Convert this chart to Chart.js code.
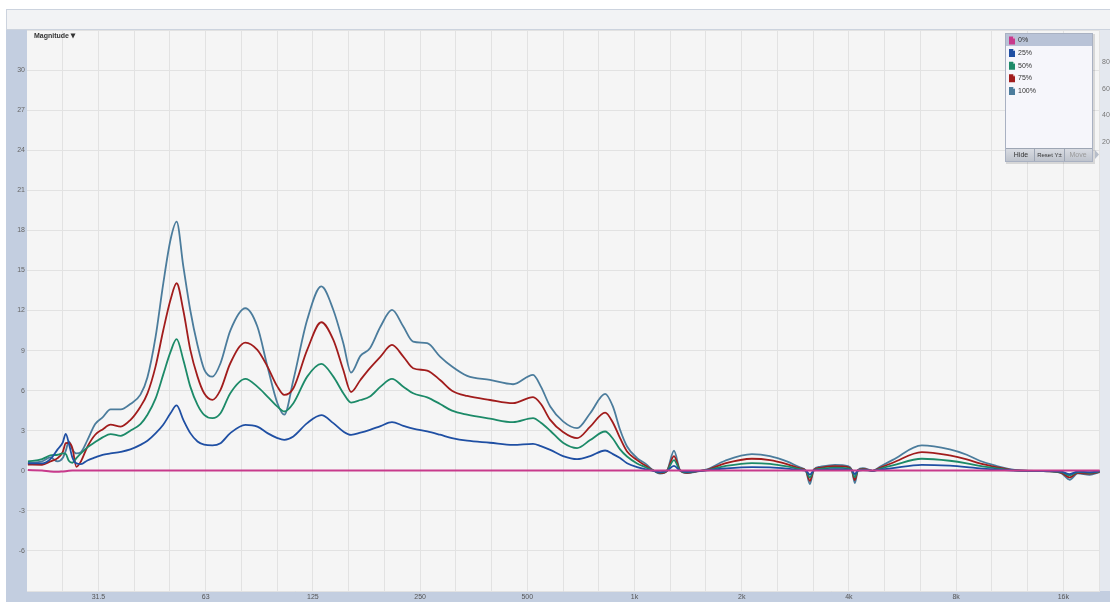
<!DOCTYPE html>
<html>
<head>
<meta charset="utf-8">
<script src="https://cdn.jsdelivr.net/npm/chart.js@4.4.1/dist/chart.umd.min.js"></script>
<style>
  html, body { margin: 0; padding: 0; background: #fff; }
  canvas { display: block; }
</style>
</head>
<body>
<canvas id="canvas" width="1110" height="602"></canvas>
<script>
// frequency points (Hz)
var freqs = [19.8, 21.7, 22.9, 24.0, 24.8, 25.3, 25.8, 26.4, 27.1, 27.9,
  29.1, 30.6, 32.1, 33.8, 36.1, 38.4, 41.0, 42.9, 45.2, 47.5,
  49.8, 51.8, 54.1, 56.6, 59.3, 61.9, 65.3, 68.8, 73.3, 80.8,
  87.3, 93.2, 99.4, 103.9, 110.2, 120.5, 132, 142.7, 152.2, 160,
  170, 180.8, 193.6, 208.5, 224.3, 239, 261.8, 284.5, 307.3, 339,
  393, 456, 519, 546, 580, 630, 690, 751, 827, 870,
  911, 953, 1017, 1078, 1120, 1180, 1234, 1291, 1342, 1404,
  1498, 1598, 1795, 2136, 2401, 2678, 2915, 3029, 3108, 3189,
  3316, 3653, 3974, 4077, 4157, 4239, 4377, 4669, 4886, 5312,
  6408, 7679, 8570, 9320, 10269, 11836, 14650, 15830, 16670, 17554,
  18970, 20234];

var pct0 = [0.05, 0.02, -0.06, -0.08, -0.05, -0.03, 0, 0.02, 0.03, 0.02,
  0.02, 0.02, 0.02, 0.02, 0.02, 0.02, 0.02, 0.02, 0.02, 0.02,
  0.02, 0.02, 0.02, 0.02, 0.02, 0.02, 0.02, 0.02, 0.02, 0.02,
  0.02, 0.02, 0.02, 0.02, 0.02, 0.02, 0.02, 0.02, 0.02, 0.02,
  0.02, 0.02, 0.02, 0.02, 0.02, 0.02, 0.02, 0.02, 0.02, 0.02,
  0.02, 0.02, 0.02, 0.02, 0.02, 0.02, 0.02, 0.02, 0.02, 0.02,
  0.02, 0.02, 0.02, 0.02, 0.02, 0.02, 0.02, 0.02, 0.02, 0.02,
  0.02, 0.02, 0.02, 0.02, 0.02, 0.02, 0.02, 0.02, 0.02, 0.02,
  0.02, 0.02, 0.02, 0.02, 0.02, 0.02, 0.02, 0.02, 0.02, 0.02,
  0.02, 0.02, 0.02, 0.02, 0.02, 0.02, 0.02, 0.02, 0.02, 0.02,
  0.02, 0.02];

var pct25 = [0.55, 0.55, 0.87, 1.6, 2.1, 2.77, 2.07, 1.0, 0.55, 0.5,
  0.77, 1.0, 1.2, 1.3, 1.42, 1.6, 1.94, 2.25, 2.8, 3.45,
  4.3, 4.89, 3.81, 2.82, 2.19, 1.95, 1.9, 2.07, 2.82, 3.44,
  3.31, 2.82, 2.45, 2.32, 2.57, 3.57, 4.16, 3.57, 2.94, 2.69,
  2.85, 3.07, 3.35, 3.64, 3.37, 3.15, 2.95, 2.7, 2.45, 2.25,
  2.1, 1.94, 2.02, 1.85, 1.57, 1.1, 0.87, 1.1, 1.52, 1.25,
  0.95, 0.57, 0.27, 0.1, 0.02, -0.1, 0, 0.37, 0.02, -0.08,
  -0.02, 0.03, 0.17, 0.28, 0.25, 0.16, 0.06, 0, -0.28, 0.03,
  0.07, 0.12, 0.09, 0.02, -0.25, 0.02, 0.05, 0, 0.07, 0.2,
  0.45, 0.38, 0.28, 0.18, 0.1, 0.01, -0.02, -0.07, -0.25, -0.07,
  -0.1, -0.03];

var pct50 = [0.7, 0.87, 1.15, 1.2, 1.3, 1.25, 0.75, 0.6, 0.95, 1.3,
  1.75, 2.15, 2.5, 2.75, 2.62, 3.0, 3.5, 4.2, 5.4, 7.2,
  8.9, 9.85, 8.3, 6.3, 4.94, 4.19, 3.94, 4.31, 5.81, 6.88,
  6.3, 5.56, 4.8, 4.44, 5.06, 7.05, 8.0, 7.05, 5.81, 5.11,
  5.3, 5.56, 6.3, 6.88, 6.3, 5.8, 5.5, 5.0, 4.5, 4.2,
  3.9, 3.64, 3.94, 3.6, 3.0, 2.1, 1.7, 2.3, 2.94, 2.4,
  1.6, 1.07, 0.55, 0.25, 0.05, -0.14, 0, 0.8, 0.03, -0.12,
  -0.03, 0.05, 0.35, 0.58, 0.52, 0.33, 0.12, 0, -0.5, 0.05,
  0.15, 0.24, 0.18, 0.03, -0.48, 0.03, 0.1, 0, 0.15, 0.4,
  0.9, 0.75, 0.56, 0.36, 0.2, 0.02, -0.03, -0.1, -0.35, -0.1,
  -0.15, -0.05];

var pct75 = [0.47, 0.45, 0.7, 0.95, 1.4, 2.07, 2.1, 1.7, 0.3, 0.7,
  1.8, 2.7, 3.1, 3.45, 3.31, 3.8, 4.8, 5.8, 7.8, 10.5,
  12.8, 14.04, 12.0, 9.05, 7.05, 5.8, 5.31, 6.06, 8.05, 9.6,
  9.05, 7.8, 6.3, 5.68, 6.18, 9.05, 11.12, 9.8, 7.55, 5.9,
  6.8, 7.68, 8.55, 9.42, 8.55, 7.68, 7.5, 6.8, 6.0, 5.6,
  5.3, 5.06, 5.51, 5.0, 3.81, 2.9, 2.44, 3.3, 4.36, 3.6,
  2.44, 1.44, 0.8, 0.35, 0.08, -0.18, 0, 1.1, 0.05, -0.15,
  -0.04, 0.07, 0.55, 0.9, 0.8, 0.5, 0.18, 0, -0.75, 0.08,
  0.22, 0.35, 0.28, 0.04, -0.7, 0.04, 0.15, 0, 0.22, 0.6,
  1.4, 1.15, 0.86, 0.55, 0.3, 0.03, -0.04, -0.15, -0.5, -0.15,
  -0.22, -0.08];

var pct100 = [0.6, 0.7, 1.0, 0.7, 0.95, 1.5, 2.2, 1.6, 1.3, 1.4,
  2.3, 3.5, 4.0, 4.6, 4.6, 5.0, 5.7, 7.0, 10.0, 14.0,
  17.3, 18.65, 15.3, 12.0, 9.4, 7.6, 7.05, 8.05, 10.5, 12.17,
  10.8, 7.8, 5.06, 4.2, 6.8, 11.3, 13.8, 12.04, 9.55, 7.35,
  8.6, 9.17, 10.8, 12.04, 10.8, 9.67, 9.55, 8.55, 7.8, 7.1,
  6.8, 6.48, 7.18, 6.3, 4.81, 3.7, 3.19, 4.31, 5.76, 4.8,
  3.07, 1.82, 0.95, 0.5, 0.1, -0.22, 0, 1.5, 0.05, -0.17,
  -0.05, 0.1, 0.75, 1.25, 1.1, 0.7, 0.25, 0, -1.0, 0.1,
  0.3, 0.45, 0.35, 0.05, -0.92, 0.05, 0.2, 0, 0.3, 0.82,
  1.9, 1.6, 1.2, 0.75, 0.4, 0.05, -0.05, -0.2, -0.67, -0.2,
  -0.3, -0.1];

var seriesNames = ['0%', '25%', '50%', '75%', '100%'];
var seriesValues = [pct0, pct25, pct50, pct75, pct100];
var seriesColors = ['#c83a8c', '#1f4fa3', '#1c8a68', '#a11c1c', '#4b7c9c'];

// axis ticks
var gridFreqs = [24.8, 31.25, 39.37, 49.61, 62.5, 78.75, 99.21, 125, 157.5, 198.4,
  250, 315, 396.9, 500, 630, 793.7, 1000, 1260, 1587, 2000,
  2520, 3175, 4000, 5040, 6350, 8000, 10079, 12699, 16000, 20159];
var xLabelFreqs = [31.25, 62.5, 125, 250, 500, 1000, 2000, 4000, 8000, 16000];
var xLabelText = ['31.5', '63', '125', '250', '500', '1k', '2k', '4k', '8k', '16k'];
var rightAxisLabels = ['80', '60', '40', '20'];

var FONT = '"Liberation Sans", Arial, sans-serif';

function fileIcon(ctx, x, y, color) {
  ctx.fillStyle = color;
  ctx.beginPath();
  ctx.moveTo(x, y);
  ctx.lineTo(x + 4, y);
  ctx.lineTo(x + 6, y + 2);
  ctx.lineTo(x + 6, y + 8);
  ctx.lineTo(x, y + 8);
  ctx.closePath();
  ctx.fill();
  ctx.fillStyle = 'rgba(255,255,255,0.55)';
  ctx.beginPath();
  ctx.moveTo(x + 4, y);
  ctx.lineTo(x + 6, y + 2);
  ctx.lineTo(x + 4, y + 2);
  ctx.closePath();
  ctx.fill();
}

var framePlugin = {
  id: 'frame',
  beforeDraw: function(chart) {
    var ctx = chart.ctx, a = chart.chartArea, W = chart.width, H = chart.height;
    ctx.save();
    ctx.fillStyle = '#ffffff';
    ctx.fillRect(0, 0, W, H);
    // header band
    ctx.fillStyle = '#f2f3f5';
    ctx.fillRect(6, 9, W - 6, a.top - 9);
    ctx.strokeStyle = '#ccd3de';
    ctx.lineWidth = 1;
    ctx.beginPath();
    ctx.moveTo(6, 9.5); ctx.lineTo(W, 9.5);
    ctx.moveTo(6.5, 9); ctx.lineTo(6.5, a.top);
    ctx.moveTo(6, a.top - 0.5); ctx.lineTo(W, a.top - 0.5);
    ctx.stroke();
    // side + bottom strips
    ctx.fillStyle = '#c3cee0';
    ctx.fillRect(6, a.top, a.left - 6, H - a.top);
    ctx.fillRect(6, a.bottom, W - 6, H - a.bottom);
    ctx.fillStyle = '#e4e8ef';
    ctx.fillRect(a.right, a.top, W - a.right, a.bottom - a.top);
    // plot background
    ctx.fillStyle = '#f5f5f5';
    ctx.fillRect(a.left, a.top, a.right - a.left, a.bottom - a.top);
    ctx.restore();
  },
  afterDraw: function(chart) {
    var ctx = chart.ctx, a = chart.chartArea;
    ctx.save();
    // title
    ctx.fillStyle = '#333';
    ctx.font = 'bold 7px ' + FONT;
    ctx.textBaseline = 'middle';
    ctx.textAlign = 'left';
    ctx.fillText('Magnitude', a.left + 7, 36.5);
    ctx.beginPath();
    ctx.moveTo(70.5, 33.5); ctx.lineTo(75.5, 33.5); ctx.lineTo(73, 38.5);
    ctx.closePath();
    ctx.fill();

    // right axis labels (partly cut)
    ctx.fillStyle = '#777';
    ctx.font = '7px ' + FONT;
    for (var r = 0; r < rightAxisLabels.length; r++) {
      ctx.fillText(rightAxisLabels[r], 1102, 62 + r * 26.7);
    }

    // legend box
    var bx = 1005, by = 33, bw = 88, bh = 129;
    ctx.fillStyle = 'rgba(0,0,0,0.12)';
    ctx.fillRect(bx + 1, by + 1, bw + 1, bh + 1);
    ctx.fillStyle = '#f6f6fb';
    ctx.fillRect(bx, by, bw, bh);
    ctx.strokeStyle = '#a9b1c2';
    ctx.strokeRect(bx + 0.5, by + 0.5, bw - 1, bh - 1);
    ctx.fillStyle = '#b9c3d7';
    ctx.fillRect(bx + 1, by + 1, bw - 2, 12);
    for (var i = 0; i < seriesNames.length; i++) {
      var ry = 40.5 + i * 12.6;
      fileIcon(ctx, 1009, ry - 4, seriesColors[i]);
      ctx.fillStyle = '#333';
      ctx.font = '7px ' + FONT;
      ctx.textAlign = 'left';
      ctx.fillText(seriesNames[i], 1018, ry);
    }
    // button bar
    var g = ctx.createLinearGradient(0, 149, 0, 161);
    g.addColorStop(0, '#d8dbe2');
    g.addColorStop(1, '#bfc4cd');
    ctx.fillStyle = g;
    ctx.fillRect(bx + 1, 149, bw - 2, 12);
    ctx.strokeStyle = '#9ea6b4';
    ctx.beginPath();
    ctx.moveTo(bx + 1, 148.5); ctx.lineTo(bx + bw - 1, 148.5);
    ctx.moveTo(1034.5, 149); ctx.lineTo(1034.5, 161);
    ctx.moveTo(1064.5, 149); ctx.lineTo(1064.5, 161);
    ctx.stroke();
    ctx.textAlign = 'center';
    ctx.fillStyle = '#333';
    ctx.font = '7px ' + FONT;
    ctx.fillText('Hide', 1021, 155);
    ctx.font = '6px ' + FONT;
    ctx.fillText('Reset Y\u00b1', 1049.5, 155);
    ctx.fillStyle = '#9a9a9a';
    ctx.font = '7px ' + FONT;
    ctx.fillText('Move', 1078, 155);
    // little arrow
    ctx.fillStyle = '#b8bec9';
    ctx.beginPath();
    ctx.moveTo(1095, 150); ctx.lineTo(1099, 154.5); ctx.lineTo(1095, 159);
    ctx.closePath();
    ctx.fill();
    ctx.restore();
  }
};

var datasets = seriesNames.map(function(name, i) {
  return {
    label: name,
    data: freqs.map(function(f, j) { return { x: f, y: seriesValues[i][j] }; }),
    borderColor: seriesColors[i],
    borderWidth: i === 0 ? 2 : 1.8,
    pointRadius: 0,
    fill: false,
    cubicInterpolationMode: 'monotone'
  };
});

var config = {
  type: 'line',
  data: { datasets: datasets },
  options: {
    responsive: false,
    animation: false,
    devicePixelRatio: 1,
    events: [],
    layout: { padding: { top: 30, right: 10, left: 0, bottom: 0 } },
    plugins: { legend: { display: false }, tooltip: { enabled: false } },
    scales: {
      x: {
        type: 'logarithmic',
        min: 19.69, max: 20280,
        afterBuildTicks: function(scale) {
          scale.ticks = gridFreqs.map(function(v) { return { value: v }; });
        },
        afterFit: function(scale) { scale.height = 11; },
        grid: { color: '#e2e2e2', drawTicks: false },
        border: { display: false },
        ticks: {
          autoSkip: false, maxRotation: 0, padding: 2,
          color: '#555', font: { size: 7, family: FONT },
          callback: function(v) {
            for (var k = 0; k < xLabelFreqs.length; k++) {
              if (Math.abs(xLabelFreqs[k] - v) < 0.5) return xLabelText[k];
            }
            return '';
          }
        }
      },
      y: {
        min: -9, max: 33,
        afterFit: function(scale) { scale.width = 27; },
        grid: { color: '#e2e2e2', drawTicks: false },
        border: { display: false },
        ticks: {
          stepSize: 3, padding: 2,
          color: '#666', font: { size: 7, family: FONT },
          callback: function(v) { return (v === -9 || v === 33) ? '' : v; }
        }
      }
    }
  },
  plugins: [framePlugin]
};

window.onload = function() {
  window.myChart = new Chart(document.getElementById('canvas'), config);
};
</script>
</body>
</html>
